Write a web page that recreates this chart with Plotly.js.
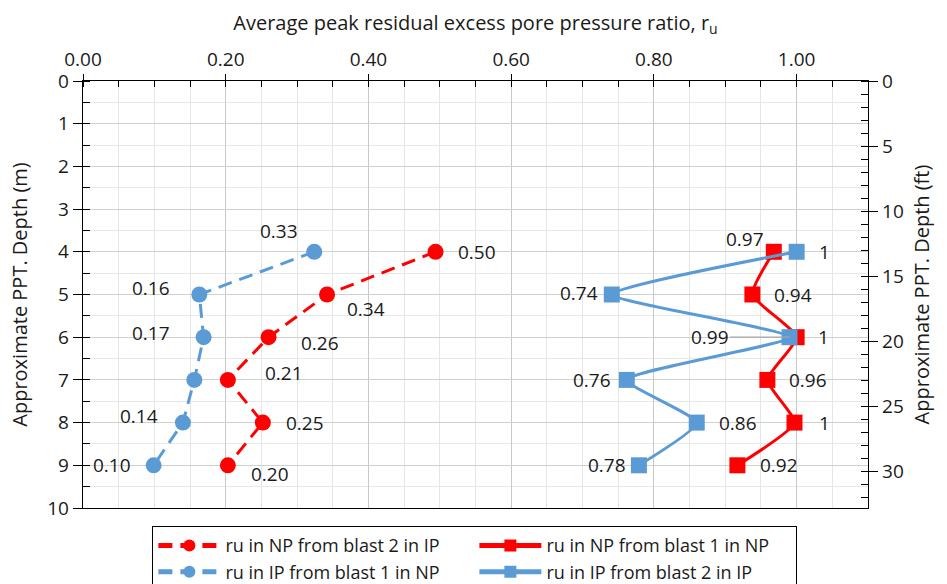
<!DOCTYPE html>
<html>
<head>
<meta charset="utf-8">
<script src="https://cdn.plot.ly/plotly-3.0.1.min.js"></script>
<style>html,body{margin:0;padding:0;background:#fff;}#chart{width:947px;height:584px;}</style>
</head>
<body>
<div id="chart"></div>
<script>
// ---- data ----
const depths = [4, 5, 6, 7, 8, 9];

const npBlast2IP = [0.494, 0.342, 0.260, 0.203, 0.252, 0.203];
const npBlast2IPLabels = ['0.50', '0.34', '0.26', '0.21', '0.25', '0.20'];

const ipBlast1NP = [0.324, 0.163, 0.169, 0.156, 0.140, 0.099];
const ipBlast1NPLabels = ['0.33', '0.16', '0.17', '', '0.14', '0.10'];

const npBlast1NP = [0.968, 0.938, 1.0, 0.959, 0.997, 0.917];
const npBlast1NPLabels = ['0.97', '0.94', '1', '0.96', '1', '0.92'];

const ipBlast2IP = [1.0, 0.741, 0.99, 0.762, 0.86, 0.779];
const ipBlast2IPLabels = ['1', '0.74', '0.99', '0.76', '0.86', '0.78'];

const seriesNames = [
  'ru in NP from blast 2 in IP',
  'ru in NP from blast 1 in NP',
  'ru in IP from blast 1 in NP',
  'ru in IP from blast 2 in IP'
];

const xTitle = 'Average peak residual excess pore pressure ratio, r<sub>u</sub>';
const yTitleM = 'Approximate PPT. Depth (m)';
const yTitleFt = 'Approximate PPT. Depth (ft)';

// ---- styles ----
const RED = '#FF0000';
const BLUE = '#5B9BD5';
const FONT = 'Open Sans, sans-serif';
const TXT = '#1a1a1a';
const FT_PER_M = 1 / 0.3048;

// label placement (style only): [xanchor, xshift, yshift]
const posNP2 = [['left',20,0],['left',18,-14],['left',30,-6],['left',35,7],['left',21,0],['left',21,-9]];
const posIP1 = [['right',-14,21],['right',-27,7],['right',-32,4],['right',0,0],['right',-23,7],['right',-21,0]];
const posNP1 = [['right',-8,13],['left',20,0],['left',19,0],['left',20,0],['left',22,0],['left',21,0]];
const posIP2 = [['left',20,0],['right',-12,2],['right',-61,0],['right',-14,0],['left',20,0],['right',-11,0]];

const traces = [
  {x: npBlast2IP, y: depths, name: seriesNames[0], mode: 'lines+markers',
   line: {color: RED, width: 3, dash: '14px,8px'}, marker: {symbol: 'circle', size: 16, color: RED}},
  {x: npBlast1NP, y: depths, name: seriesNames[1], mode: 'lines+markers',
   line: {color: RED, width: 3, shape: 'spline', smoothing: 0.5}, marker: {symbol: 'square', size: 16, color: RED}},
  {x: ipBlast1NP, y: depths, name: seriesNames[2], mode: 'lines+markers',
   line: {color: BLUE, width: 3, dash: '14px,8px'}, marker: {symbol: 'circle', size: 16, color: BLUE}},
  {x: ipBlast2IP, y: depths, name: seriesNames[3], mode: 'lines+markers',
   line: {color: BLUE, width: 3, shape: 'spline', smoothing: 0.5}, marker: {symbol: 'square', size: 16, color: BLUE}},
  {x: [null], y: [null], yaxis: 'y2', showlegend: false, hoverinfo: 'skip', mode: 'markers'}
];

const annotations = [];
function addLabels(vals, labels, pos) {
  vals.forEach((v, i) => {
    if (!labels[i]) return;
    annotations.push({
      x: v, y: depths[i], xref: 'x', yref: 'y', text: labels[i], showarrow: false,
      xanchor: pos[i][0], yanchor: 'middle', xshift: pos[i][1], yshift: pos[i][2],
      font: {family: FONT, size: 19, color: TXT}
    });
  });
}
addLabels(npBlast2IP, npBlast2IPLabels, posNP2);
addLabels(ipBlast1NP, ipBlast1NPLabels, posIP1);
addLabels(npBlast1NP, npBlast1NPLabels, posNP1);
ipBlast2IP.forEach((v, i) => {
  if (!ipBlast2IPLabels[i]) return;
  if (ipBlast2IPLabels[i] === '0.99') {
    annotations.push({
      x: v, y: depths[i], xref: 'x', yref: 'y', text: ipBlast2IPLabels[i],
      showarrow: true, arrowhead: 0, arrowwidth: 1.2, arrowcolor: '#A6A6A6',
      ax: -80, ay: 0, standoff: 0,
      font: {family: FONT, size: 19, color: TXT}
    });
  } else {
    annotations.push({
      x: v, y: depths[i], xref: 'x', yref: 'y', text: ipBlast2IPLabels[i], showarrow: false,
      xanchor: posIP2[i][0], yanchor: 'middle', xshift: posIP2[i][1], yshift: posIP2[i][2],
      font: {family: FONT, size: 19, color: TXT}
    });
  }
});

const layout = {
  width: 947, height: 584,
  margin: {l: 83, r: 79, t: 81, b: 76, autoexpand: false},
  paper_bgcolor: '#fff', plot_bgcolor: '#fff',
  font: {family: FONT, size: 19, color: TXT},
  showlegend: true,
  legend: {
    orientation: 'h', x: 0.088, xanchor: 'left', y: -0.042, yanchor: 'top',
    bordercolor: '#000', borderwidth: 1.3, bgcolor: '#fff',
    font: {family: FONT, size: 18, color: TXT},
    entrywidth: 244, traceorder: 'normal', itemwidth: 62, itemsizing: 'constant'
  },
  xaxis: {
    side: 'top', range: [0, 1.1], tick0: 0, dtick: 0.2, tickformat: '.2f',
    ticks: 'outside', ticklen: 6, tickcolor: '#000', tickwidth: 1,
    showline: true, linecolor: '#000', linewidth: 1.3, mirror: true,
    showgrid: true, gridcolor: '#C8C8C8', gridwidth: 1, zeroline: false,
    minor: {dtick: 0.05, ticks: 'inside', ticklen: 6, tickcolor: '#000', showgrid: true, gridcolor: '#E6E6E6'},
    tickfont: {family: FONT, size: 19, color: TXT},
    title: {text: xTitle, standoff: 10, font: {family: FONT, size: 20, color: TXT}}
  },
  yaxis: {
    range: [10, 0], tick0: 0, dtick: 1,
    ticks: 'outside', ticklen: 9, tickcolor: '#000',
    showline: true, linecolor: '#000', linewidth: 1.3, mirror: true,
    showgrid: true, gridcolor: '#D0D0D0', zeroline: false,
    minor: {dtick: 0.5, ticks: 'inside', ticklen: 7, tickcolor: '#000', showgrid: true, gridcolor: '#E8E8E8'},
    tickfont: {family: FONT, size: 19, color: TXT},
    title: {text: yTitleM, standoff: 14, font: {family: FONT, size: 20, color: TXT}}
  },
  yaxis2: {
    overlaying: 'y', side: 'right', range: [10 * FT_PER_M, 0], tick0: 0, dtick: 5,
    ticks: 'outside', ticklen: 9, tickcolor: '#000',
    showline: true, linecolor: '#000', linewidth: 1.3,
    showgrid: false, zeroline: false,
    minor: {dtick: 1, ticks: 'inside', ticklen: 7, tickcolor: '#000', showgrid: false},
    tickfont: {family: FONT, size: 19, color: TXT},
    title: {text: yTitleFt, standoff: 12, font: {family: FONT, size: 20, color: TXT}}
  },
  annotations: annotations
};

Plotly.newPlot('chart', traces, layout, {displayModeBar: false, staticPlot: true});
</script>
</body>
</html>
